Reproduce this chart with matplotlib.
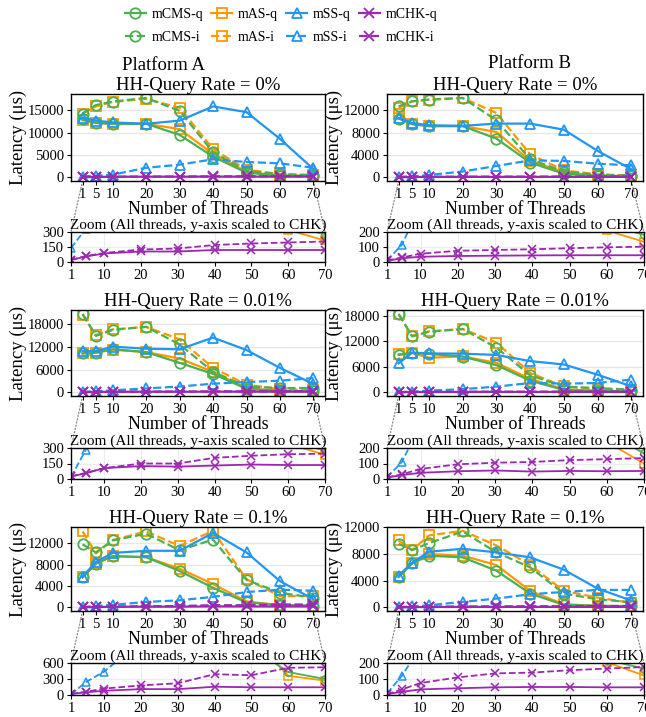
import matplotlib
matplotlib.use("Agg")
import matplotlib.pyplot as plt
from matplotlib.patches import ConnectionPatch

plt.rcParams['font.family'] = ['Liberation Serif', 'DejaVu Serif']

threads = [1, 5, 10, 20, 30, 40, 50, 60, 70]
main_xticks = [1, 5, 10, 20, 30, 40, 50, 60, 70]
zoom_xticks = [1, 10, 20, 30, 40, 50, 60, 70]
platforms = ["Platform A", "Platform B"]
rates = ["0%", "0.01%", "0.1%"]
series_names = ["mCMS-q", "mAS-q", "mSS-q", "mCHK-q", "mCMS-i", "mAS-i", "mSS-i", "mCHK-i"]

# Platform A, HH-Query Rate = 0%
A0_cms_q = [13000, 12200, 12000, 12000, 9500, 4600, 1000, 350, 280]
A0_as_q = [12800, 12200, 11900, 12000, 10800, 5200, 1200, 320, 215]
A0_ss_q = [13400, 12700, 12300, 12000, 12700, 15900, 14600, 8600, 1800]
A0_chk_q = [20, 55, 85, 105, 105, 120, 120, 120, 120]
A0_cms_i = [14300, 16200, 17000, 17800, 14900, 5600, 1400, 600, 450]
A0_as_i = [14300, 15900, 16900, 17600, 15600, 6300, 1700, 700, 500]
A0_ss_i = [140, 330, 550, 2100, 2800, 4000, 3400, 3100, 2100]
A0_chk_i = [20, 60, 90, 125, 135, 170, 185, 195, 205]

# Platform B, HH-Query Rate = 0%
B0_cms_q = [10500, 9500, 9150, 9150, 6900, 2600, 600, 250, 180]
B0_as_q = [11300, 9500, 9150, 9150, 8100, 2900, 900, 210, 135]
B0_ss_q = [10600, 9700, 9300, 9200, 9600, 9600, 8500, 4700, 1400]
B0_chk_q = [8, 25, 35, 40, 42, 44, 45, 45, 45]
B0_cms_i = [12700, 13600, 13900, 14200, 10200, 3200, 1000, 400, 250]
B0_as_i = [12400, 13600, 13900, 14200, 11500, 4100, 1200, 500, 300]
B0_ss_i = [10, 115, 380, 1000, 2000, 3000, 2900, 2400, 2100]
B0_chk_i = [10, 30, 55, 75, 80, 85, 92, 98, 102]

# Platform A, HH-Query Rate = 0.01%
A1_cms_q = [10300, 10500, 11400, 10650, 7800, 4850, 900, 350, 280]
A1_as_q = [10300, 10500, 11300, 10650, 8950, 5400, 1000, 340, 235]
A1_ss_q = [10900, 10900, 12100, 11550, 11400, 14500, 11200, 6450, 2150]
A1_chk_q = [25, 55, 105, 125, 120, 130, 140, 135, 135]
A1_cms_i = [20800, 14950, 16550, 17350, 12700, 5400, 1500, 1100, 1100]
A1_as_i = [20600, 15200, 16700, 17350, 14050, 6450, 2000, 800, 500]
A1_ss_i = [20, 280, 500, 1000, 1500, 2250, 2700, 3050, 3750]
A1_chk_i = [25, 60, 105, 150, 150, 205, 225, 240, 245]

# Platform B, HH-Query Rate = 0.01%
B1_cms_q = [8750, 9200, 9000, 8350, 6350, 2700, 500, 300, 165]
B1_as_q = [8900, 9200, 8100, 8400, 6900, 3100, 700, 240, 100]
B1_ss_q = [6750, 9300, 9100, 9050, 8750, 7300, 6500, 4100, 1350]
B1_chk_q = [10, 25, 40, 50, 55, 48, 52, 50, 52]
B1_cms_i = [18400, 13100, 14200, 14850, 10450, 3950, 1300, 950, 600]
B1_as_i = [18300, 13300, 14300, 14850, 11650, 4500, 1350, 700, 500]
B1_ss_i = [10, 110, 350, 700, 1300, 2150, 2000, 2150, 2950]
B1_chk_i = [10, 30, 65, 95, 105, 110, 122, 128, 135]

# Platform A, HH-Query Rate = 0.1%
A2_cms_q = [5600, 8200, 9600, 9400, 6800, 3650, 900, 430, 300]
A2_as_q = [5600, 8200, 9600, 9400, 7250, 4350, 1100, 360, 270]
A2_ss_q = [5750, 8500, 10200, 10600, 10600, 13950, 10300, 4900, 1500]
A2_chk_q = [20, 50, 80, 110, 110, 155, 145, 145, 145]
A2_cms_i = [11800, 10300, 12550, 13800, 10700, 12700, 5150, 2700, 1800]
A2_as_i = [14250, 10100, 12600, 14250, 11500, 14350, 5250, 2100, 2100]
A2_ss_i = [10, 240, 440, 1000, 1300, 1950, 2850, 3300, 3100]
A2_chk_i = [20, 60, 120, 180, 220, 390, 370, 510, 520]

# Platform B, HH-Query Rate = 0.1%
B2_cms_q = [4550, 6600, 7750, 7500, 5500, 2050, 350, 220, 165]
B2_as_q = [4550, 6600, 8000, 7750, 6350, 2450, 450, 205, 122]
B2_ss_q = [4750, 6700, 8350, 8800, 8250, 7500, 5650, 2800, 1000]
B2_chk_q = [5, 20, 35, 42, 48, 50, 50, 48, 48]
B2_cms_i = [9550, 8600, 9650, 11400, 8250, 6000, 2050, 1200, 750]
B2_as_i = [10050, 8600, 10800, 11500, 9300, 6350, 2450, 1450, 650]
B2_ss_i = [10, 120, 300, 800, 1300, 1950, 2300, 2600, 2600]
B2_chk_i = [5, 35, 75, 110, 135, 140, 155, 165, 175]

main_yticks = [[[0, 5000, 10000, 15000], [0, 4000, 8000, 12000]],
               [[0, 6000, 12000, 18000], [0, 6000, 12000, 18000]],
               [[0, 4000, 8000, 12000], [0, 4000, 8000, 12000]]]
zoom_yticks = [[[0, 150, 300], [0, 100, 200]],
               [[0, 150, 300], [0, 100, 200]],
               [[0, 300, 600], [0, 100, 200]]]

data = [
    [[A0_cms_q, A0_as_q, A0_ss_q, A0_chk_q, A0_cms_i, A0_as_i, A0_ss_i, A0_chk_i],
     [B0_cms_q, B0_as_q, B0_ss_q, B0_chk_q, B0_cms_i, B0_as_i, B0_ss_i, B0_chk_i]],
    [[A1_cms_q, A1_as_q, A1_ss_q, A1_chk_q, A1_cms_i, A1_as_i, A1_ss_i, A1_chk_i],
     [B1_cms_q, B1_as_q, B1_ss_q, B1_chk_q, B1_cms_i, B1_as_i, B1_ss_i, B1_chk_i]],
    [[A2_cms_q, A2_as_q, A2_ss_q, A2_chk_q, A2_cms_i, A2_as_i, A2_ss_i, A2_chk_i],
     [B2_cms_q, B2_as_q, B2_ss_q, B2_chk_q, B2_cms_i, B2_as_i, B2_ss_i, B2_chk_i]],
]

colors = {"CMS": "#4caf50", "AS": "#ff9800", "SS": "#2196f3", "CHK": "#9c27b0"}
markers = {"CMS": "o", "AS": "s", "SS": "^", "CHK": "x"}
fams = ["CMS", "AS", "SS", "CHK"]
draw_order = [1, 5, 0, 4, 2, 6, 3, 7]

W, H = 646, 717
fig = plt.figure(figsize=(W / 100, H / 100), dpi=100)


def rect(l, t, r, b):
    return [l / W, 1 - b / H, (r - l) / W, (b - t) / H]


cols = [(71, 325), (387, 643)]
main_rows = [(94, 181), (310, 396), (527, 611)]
zoom_rows = [(232, 262), (448, 479), (663, 695)]

handles = {}
for r in range(3):
    for c in range(2):
        l, rr = cols[c]
        t, b = main_rows[r]
        ax = fig.add_axes(rect(l, t, rr, b))
        zt, zb = zoom_rows[r]
        axz = fig.add_axes(rect(l, zt, rr + (1 if c == 1 else 0), zb))
        for idx in draw_order:
            name = series_names[idx]
            fam = fams[idx % 4]
            ls = '-' if idx < 4 else '--'
            vals = data[r][c][idx]
            h, = ax.plot(threads, vals, color=colors[fam], ls=ls, lw=1.6,
                         marker=markers[fam], ms=7.5, mfc='none', mew=1.3,
                         label=name)
            handles[name] = h
            axz.plot(threads, vals, color=colors[fam], ls=ls, lw=1.3,
                     marker=markers[fam], ms=5.5, mfc='none', mew=1.1)
        ax.set_xticks(main_xticks)
        ax.set_yticks(main_yticks[r][c])
        ax.tick_params(labelsize=10.5, length=3, width=0.8, pad=2)
        ax.grid(axis='y', color='#e6e6e6', lw=1.0)
        ax.set_axisbelow(True)
        ax.set_title(f"HH-Query Rate = {rates[r]}", fontsize=13.5, pad=2)
        ax.set_xlabel("Number of Threads", fontsize=13, labelpad=0)
        ax.set_ylabel("Latency (μs)", fontsize=13.5)
        ax.yaxis.set_label_coords(-0.172, 0.5)
        for s in ax.spines.values():
            s.set_linewidth(1.0)
        axz.set_xlim(1, 70)
        zy = zoom_yticks[r][c]
        axz.set_ylim(0, zy[-1])
        axz.set_xticks(zoom_xticks)
        axz.set_yticks(zy)
        axz.tick_params(labelsize=10.5, length=3, width=0.8, pad=2)
        axz.grid(True, color='#ececec', lw=0.8)
        axz.set_axisbelow(True)
        axz.set_title("Zoom (All threads, y-axis scaled to CHK)", fontsize=11, pad=1)
        for s in axz.spines.values():
            s.set_linewidth(1.0)
        y0 = ax.get_ylim()[0]
        for xd, xf in [(1, 0), (70, 1)]:
            con = ConnectionPatch(xyA=(xd, y0), coordsA=ax.transData,
                                  xyB=(xf, 1), coordsB=axz.transAxes,
                                  color='#888888', ls=':', lw=0.9, zorder=0)
            fig.add_artist(con)

fig.text(163 / W, 1 - 65 / H, platforms[0], ha='center', va='center', fontsize=13.5)
fig.text(530 / W, 1 - 64 / H, platforms[1], ha='center', va='center', fontsize=13.5)

leg_order = ["mCMS-q", "mCMS-i", "mAS-q", "mAS-i", "mSS-q", "mSS-i", "mCHK-q", "mCHK-i"]
fig.legend([handles[n] for n in leg_order], leg_order, ncol=4, frameon=False,
           loc='center', bbox_to_anchor=(281 / W, 1 - 26 / H), fontsize=10,
           handlelength=1.5, handletextpad=0.4, columnspacing=0.6,
           labelspacing=0.75, borderpad=0.1)

fig.savefig("out.png", dpi=100)
